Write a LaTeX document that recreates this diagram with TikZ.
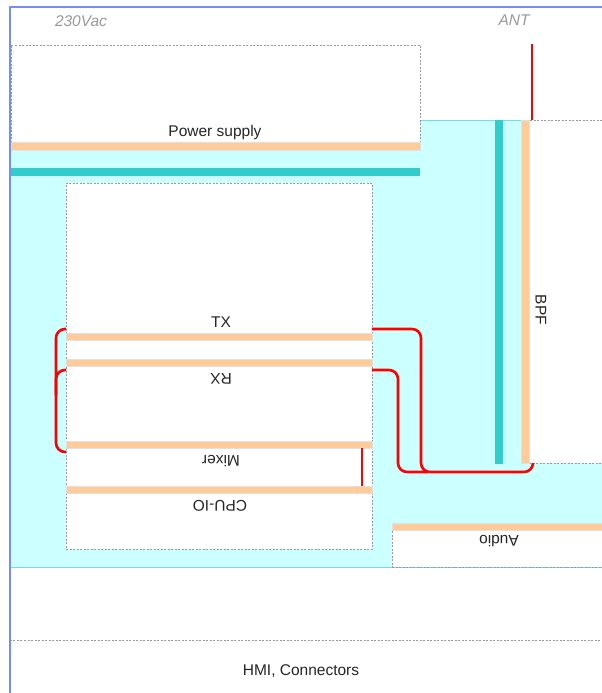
\documentclass[tikz,border=0pt]{standalone}
\usepackage{fontspec}
\setmainfont{Liberation Sans}
\usetikzlibrary{positioning, calc}

\definecolor{peach}{HTML}{FFCC99}
\definecolor{aqua}{HTML}{CCFFFF}
\definecolor{aquaedge}{HTML}{77DDDD}
\definecolor{railteal}{HTML}{33CCCC}
\definecolor{framblue}{HTML}{7090F8}

\begin{document}
\begin{tikzpicture}[
    x=1pt, y=-1pt,
    board/.style={draw=black!40, dash pattern=on 2pt off 1.5pt, line width=0.6pt,
                  fill=white, inner sep=0pt, outer sep=0pt, anchor=north west},
    bar/.style={fill=peach, draw=black!12, line width=0.5pt,
                inner sep=0pt, outer sep=0pt, anchor=north west},
    rail/.style={fill=railteal, inner sep=0pt, outer sep=0pt, anchor=north west},
    label/.style={font=\fontsize{15.5}{17}\selectfont, text=black!85},
    tag/.style={font=\fontsize{15.5}{17}\selectfont\itshape, text=black!40},
    wire/.style={draw=red, line width=2.6pt, rounded corners=9pt}
  ]
  \useasboundingbox (0,0) rectangle (602,693);
  % Chassis area
  \fill[aqua] (10,120) rectangle (602,567);
  \draw[aquaedge, line width=1pt] (10,567) -- (602,567);
  \draw[aquaedge, line width=1pt] (420,120) -- (530,120);
  % Boards
  \node[board, minimum width=409pt, minimum height=105pt] (psu) at (11,45) {};
  \node[board, minimum width=306pt, minimum height=366pt] (cpu) at (66,183) {};
  \node[board, minimum width=75pt, minimum height=343pt] (bpf) at (529,120) {};
  \node[board, minimum width=212pt, minimum height=44pt] (audio) at (392,523) {};
  \node[board, minimum width=594pt, minimum height=60pt] (hmi) at (10,640) {};
  % Power rails
  \node[rail, minimum width=410pt, minimum height=8pt] (hrail) at (10,168) {};
  \node[rail, minimum width=8pt, minimum height=344pt] (vrail) at (495,120) {};
  % Connector bars
  \node[bar, minimum width=409pt, minimum height=8pt] (psubar) at (11,142) {};
  \node[bar, minimum width=8pt, minimum height=343pt] (bpfbar) at (521,120) {};
  \node[bar, minimum width=212pt, minimum height=7pt] (audiobar) at (392,523) {};
  \foreach \n/\y in {txbar/333, rxbar/359, mixbar/441, cpubar/486} {
    \node[bar, minimum width=306pt, minimum height=7pt] (\n) at (66,\y) {};
  }
  % Labels
  \node[tag] (mains) at (81,21) {230Vac};
  \node[tag] (ant) at (514,20) {ANT};
  \node[label] (psulbl) at (215,132) {Power supply};
  \node[label] (txlbl) at (221,322) {TX};
  \node[label, rotate=180] (rxlbl) at (221,379) {RX};
  \node[label, rotate=180] (mixlbl) at (221,461) {Mixer};
  \node[label, rotate=180] (cpulbl) at (220,506) {CPU-IO};
  \node[label, rotate=-90] (bpflbl) at (541,310) {BPF};
  \node[label, rotate=180] (audiolbl) at (499,541) {Audio};
  \node[label] (hmilbl) at (301,671) {HMI, Connectors};
  % Front frame
  \draw[framblue, line width=1.5pt] (10,693) -- (10,7) -- (602,7);
  % RF wiring
  \coordinate (antpin) at (532,44);
  \draw[wire] (antpin) -- (antpin |- bpf.north);
  \coordinate (txout) at ($(txbar.north east)+(0,-4)$);
  \coordinate (rxout) at ($(rxbar.south east)+(0,4)$);
  \coordinate (bpfin) at ($(bpf.south west)+(4,0)$);
  \draw[wire] (txout) -| (421,472) -| (bpfin);
  \draw[wire] (rxout) -| (398,472) -- (428,472);
  \draw[wire] ($(txbar.north west)+(0,-4)$) -| (56,452) -- ($(mixbar.south west)+(0,4)$);
  \draw[wire] ($(rxbar.south west)+(0,4)$) -| (56,395);
  \draw[wire, line width=2pt] ($(mixbar.south east)+(-10,0)$) -- ($(cpubar.north east)+(-10,0)$);
\end{tikzpicture}
\end{document}
